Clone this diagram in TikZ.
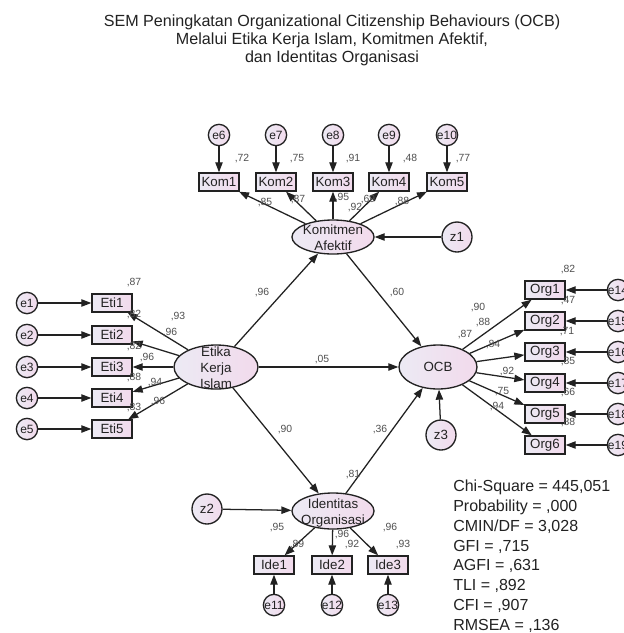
\documentclass[tikz,border=0pt]{standalone}
\usepackage{fontspec}
\setmainfont{Liberation Sans}
\usetikzlibrary{arrows.meta, shapes.geometric}
\definecolor{ink}{HTML}{222222}
\definecolor{soft}{HTML}{505050}
\definecolor{fillL}{HTML}{ECEAF4}
\definecolor{fillR}{HTML}{F2DAEC}
\newcommand{\celltext}[1]{\makebox[0pt]{\raisebox{-4.5pt}[0pt][0pt]{%
  \begin{tabular}[c]{@{}c@{}}#1\end{tabular}}}}
\newcommand{\slim}[1]{\makebox[0pt]{#1}}
\tikzset{
  latent/.style={ellipse, draw=ink, line width=1pt, left color=fillL,
                 right color=fillR, minimum width=61.5pt, minimum height=25.5pt,
                 inner sep=0pt, text=ink, font=\fontsize{10}{12}\selectfont},
  obs/.style={rectangle, draw=ink, line width=1pt, left color=fillL,
              right color=fillR, minimum width=30pt, minimum height=13.5pt,
              inner sep=0pt, text=ink, font=\fontsize{10}{11}\selectfont},
  err/.style={circle, draw=ink, line width=1pt, left color=fillL,
              right color=fillR, minimum size=16pt, inner sep=0pt, text=ink,
              font=\fontsize{9}{10}\selectfont},
  dist/.style={err, minimum size=22.5pt, font=\fontsize{10}{11}\selectfont},
  coef/.style={inner sep=0pt, text=soft, font=\fontsize{7.8}{8}\selectfont},
  heading/.style={align=center, text=ink, font=\fontsize{12.1}{13.5}\selectfont},
  fit stats/.style={align=left, anchor=north west, inner sep=0pt, text=ink,
                    font=\fontsize{12}{14.8}\selectfont},
  path/.style={-{Triangle[length=7.5pt, width=5.5pt]}, line width=0.95pt, draw=ink},
}

\begin{document}
\begin{tikzpicture}[x=0.75pt, y=-0.75pt]
  \useasboundingbox (0,0) rectangle (624,633);
  \clip (0,0) rectangle (624,633);
  \fill[white] (0,0) rectangle (624,633);

  \node[heading] (title) at (332,40)
    {SEM Peningkatan Organizational Citizenship Behaviours (OCB)\\
     Melalui Etika Kerja Islam, Komitmen Afektif,\\
     dan Identitas Organisasi};

  % latent variables
  \node[latent] (ka) at (333,237) {\celltext{Komitmen\\Afektif}};
  \node[latent, minimum width=63pt, minimum height=33pt] (ek) at (216,367)
    {\celltext{Etika\\Kerja\\Islam}};
  \node[latent, minimum width=58.5pt, minimum height=33pt] (ocb) at (438,367)
    {\slim{OCB}};
  \node[latent, minimum height=27pt] (io) at (333,511)
    {\celltext{Identitas\\Organisasi}};

  \node[dist] (z1) at (457,237) {z1};
  \node[dist] (z2) at (207,509) {z2};
  \node[dist] (z3) at (441,435) {z3};

  % Komitmen Afektif indicators
  \node[obs] (kom1) at (219,182) {Kom1};
  \node[obs] (kom2) at (276,182) {Kom2};
  \node[obs] (kom3) at (333,182) {Kom3};
  \node[obs] (kom4) at (389,182) {Kom4};
  \node[obs] (kom5) at (447,182) {Kom5};
  \node[err] (e6) at (219,135) {\slim{e6}};
  \node[err] (e7) at (276,135) {\slim{e7}};
  \node[err] (e8) at (333,135) {\slim{e8}};
  \node[err] (e9) at (389,135) {\slim{e9}};
  \node[err] (e10) at (447,135) {\slim{e10}};

  % Etika Kerja Islam indicators
  \node[obs] (eti1) at (112,303) {Eti1};
  \node[obs] (eti2) at (112,335) {Eti2};
  \node[obs] (eti3) at (112,367) {Eti3};
  \node[obs] (eti4) at (112,398) {Eti4};
  \node[obs] (eti5) at (112,429) {Eti5};
  \node[err] (e1) at (27,303) {\slim{e1}};
  \node[err] (e2) at (27,335) {\slim{e2}};
  \node[err] (e3) at (27,367) {\slim{e3}};
  \node[err] (e4) at (27,398) {\slim{e4}};
  \node[err] (e5) at (27,429) {\slim{e5}};

  % OCB indicators
  \node[obs] (org1) at (545,290) {Org1};
  \node[obs] (org2) at (545,321) {Org2};
  \node[obs] (org3) at (545,352) {Org3};
  \node[obs] (org4) at (545,383) {Org4};
  \node[obs] (org5) at (545,414) {Org5};
  \node[obs] (org6) at (545,445) {Org6};
  \node[err] (e14) at (618,290) {\slim{e14}};
  \node[err] (e15) at (618,321) {\slim{e15}};
  \node[err] (e16) at (618,352) {\slim{e16}};
  \node[err] (e17) at (618,383) {\slim{e17}};
  \node[err] (e18) at (618,414) {\slim{e18}};
  \node[err] (e19) at (618,445) {\slim{e19}};

  % Identitas Organisasi indicators
  \node[obs] (ide1) at (274,565) {Ide1};
  \node[obs] (ide2) at (332,565) {Ide2};
  \node[obs] (ide3) at (388,565) {Ide3};
  \node[err] (e11) at (274,605) {\slim{e11}};
  \node[err] (e12) at (332,605) {\slim{e12}};
  \node[err] (e13) at (388,605) {\slim{e13}};

  % structural paths
  \draw[path] (ek) -- (ka);
  \draw[path] (ek) -- (ocb);
  \draw[path] (ek) -- (io);
  \draw[path] (ka) -- (ocb);
  \draw[path] (io) -- (ocb);
  \draw[path] (z1) -- (ka);
  \draw[path] (z2) -- (io);
  \draw[path] (z3) -- (ocb);

  % measurement paths
  \draw[path] (ka) -- (kom1);
  \draw[path] (ka) -- (kom2);
  \draw[path] (ka) -- (kom3);
  \draw[path] (ka) -- (kom4);
  \draw[path] (ka) -- (kom5);
  \draw[path] (e6) -- (kom1);
  \draw[path] (e7) -- (kom2);
  \draw[path] (e8) -- (kom3);
  \draw[path] (e9) -- (kom4);
  \draw[path] (e10) -- (kom5);

  \draw[path] (ek) -- (eti1);
  \draw[path] (ek) -- (eti2);
  \draw[path] (ek) -- (eti3);
  \draw[path] (ek) -- (eti4);
  \draw[path] (ek) -- (eti5);
  \draw[path] (e1) -- (eti1);
  \draw[path] (e2) -- (eti2);
  \draw[path] (e3) -- (eti3);
  \draw[path] (e4) -- (eti4);
  \draw[path] (e5) -- (eti5);

  \draw[path] (ocb) -- (org1);
  \draw[path] (ocb) -- (org2);
  \draw[path] (ocb) -- (org3);
  \draw[path] (ocb) -- (org4);
  \draw[path] (ocb) -- (org5);
  \draw[path] (ocb) -- (org6);
  \draw[path] (e14) -- (org1);
  \draw[path] (e15) -- (org2);
  \draw[path] (e16) -- (org3);
  \draw[path] (e17) -- (org4);
  \draw[path] (e18) -- (org5);
  \draw[path] (e19) -- (org6);

  \draw[path] (io) -- (ide1);
  \draw[path] (io) -- (ide2);
  \draw[path] (io) -- (ide3);
  \draw[path] (e11) -- (ide1);
  \draw[path] (e12) -- (ide2);
  \draw[path] (e13) -- (ide3);

  % estimates
  \node[coef] (r2kom1) at (242,159) {,72};
  \node[coef] (r2kom2) at (297,159) {,75};
  \node[coef] (r2kom3) at (353,159) {,91};
  \node[coef] (r2kom4) at (410,159) {,48};
  \node[coef] (r2kom5) at (463,159) {,77};
  \node[coef] (lkom1) at (265,203) {,85};
  \node[coef] (lkom2) at (298,200) {,87};
  \node[coef] (lkom3) at (342,198) {,95};
  \node[coef] (r2ka) at (355,208) {,92};
  \node[coef] (lkom4) at (368,200) {,69};
  \node[coef] (lkom5) at (402,202) {,88};

  \node[coef] (bka) at (262,293) {,96};
  \node[coef] (bocbka) at (397,293) {,60};
  \node[coef] (bocbek) at (322,360) {,05};
  \node[coef] (bio) at (285,430) {,90};
  \node[coef] (bocbio) at (380,430) {,36};
  \node[coef] (r2io) at (353,475) {,81};

  \node[coef] (r2eti1) at (134,283) {,87};
  \node[coef] (r2eti2) at (134,315) {,82};
  \node[coef] (r2eti3) at (134,347) {,82};
  \node[coef] (r2eti4) at (134,378) {,88};
  \node[coef] (r2eti5) at (134,408) {,83};
  \node[coef] (leti1) at (178,317) {,93};
  \node[coef] (leti2) at (170,333) {,96};
  \node[coef] (leti3) at (147,358) {,96};
  \node[coef] (leti4) at (155,383) {,94};
  \node[coef] (leti5) at (158,402) {,96};

  \node[coef] (r2org1) at (568,270) {,82};
  \node[coef] (r2org2) at (568,301) {,47};
  \node[coef] (r2org3) at (567,332) {,71};
  \node[coef] (r2org4) at (568,362) {,85};
  \node[coef] (r2org5) at (568,393) {,66};
  \node[coef] (r2org6) at (568,423) {,88};
  \node[coef] (lorg1) at (478,308) {,90};
  \node[coef] (lorg2) at (483,323) {,88};
  \node[coef] (r2ocb) at (465,335) {,87};
  \node[coef] (lorg3) at (493,345) {,84};
  \node[coef] (lorg4) at (507,372) {,92};
  \node[coef] (lorg5) at (502,392) {,75};
  \node[coef] (lorg6) at (497,407) {,94};

  \node[coef] (lide1) at (277,528) {,95};
  \node[coef] (r2ide1) at (297,545) {,89};
  \node[coef] (lide2) at (342,535) {,96};
  \node[coef] (r2ide2) at (352,545) {,92};
  \node[coef] (lide3) at (390,528) {,96};
  \node[coef] (r2ide3) at (403,545) {,93};

  \node[fit stats] (stats) at (453,480)
    {Chi-Square = 445,051\\ Probability = ,000\\ CMIN/DF = 3,028\\ GFI = ,715\\
     AGFI = ,631\\ TLI = ,892\\ CFI = ,907\\ RMSEA = ,136};
\end{tikzpicture}
\end{document}
